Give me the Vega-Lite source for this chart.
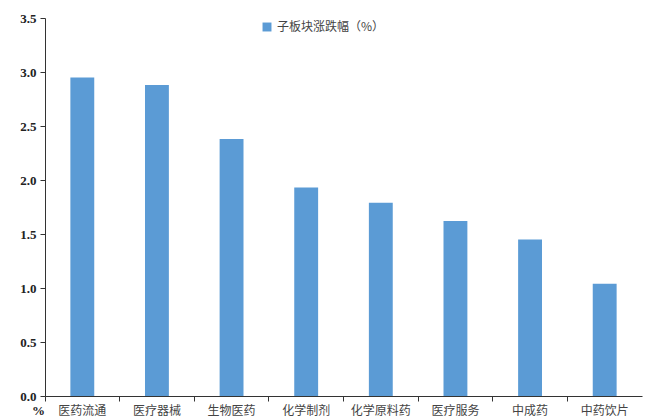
{
  "$schema": "https://vega.github.io/schema/vega-lite/v6.json",
  "width": 597,
  "height": 378,
  "autosize": {"type": "none"},
  "padding": {"left": 45, "top": 18, "right": 10, "bottom": 22},
  "background": "white",
  "config": {"view": {"stroke": null}},
  "data": {
    "values": [
      {"sector": "医药流通", "value": 2.95, "series": "子板块涨跌幅（%）"},
      {"sector": "医疗器械", "value": 2.88, "series": "子板块涨跌幅（%）"},
      {"sector": "生物医药", "value": 2.38, "series": "子板块涨跌幅（%）"},
      {"sector": "化学制剂", "value": 1.93, "series": "子板块涨跌幅（%）"},
      {"sector": "化学原料药", "value": 1.79, "series": "子板块涨跌幅（%）"},
      {"sector": "医疗服务", "value": 1.62, "series": "子板块涨跌幅（%）"},
      {"sector": "中成药", "value": 1.45, "series": "子板块涨跌幅（%）"},
      {"sector": "中药饮片", "value": 1.04, "series": "子板块涨跌幅（%）"}
    ]
  },
  "mark": {"type": "bar", "width": {"band": 0.32}},
  "encoding": {
    "x": {
      "field": "sector",
      "type": "nominal",
      "sort": null,
      "scale": {"paddingInner": 0, "paddingOuter": 0},
      "axis": {
        "title": null,
        "labelAngle": 0,
        "bandPosition": 0,
        "domainColor": "#333333",
        "tickColor": "#333333",
        "tickSize": 5,
        "labelFont": "Noto Sans CJK SC",
        "labelFontSize": 12,
        "labelColor": "#444444",
        "labelPadding": 4
      }
    },
    "y": {
      "field": "value",
      "type": "quantitative",
      "scale": {"domain": [0, 3.5], "nice": false},
      "axis": {
        "values": [0, 0.5, 1, 1.5, 2, 2.5, 3, 3.5],
        "format": ".1f",
        "grid": false,
        "domainColor": "#333333",
        "tickColor": "#333333",
        "tickSize": 5,
        "labelFont": "Liberation Serif",
        "labelFontWeight": "bold",
        "labelFontSize": 13,
        "labelColor": "#222222",
        "labelPadding": 4,
        "title": "%",
        "titleAngle": 0,
        "titleX": -7,
        "titleY": 392,
        "titleAlign": "center",
        "titleBaseline": "middle",
        "titleFont": "Liberation Serif",
        "titleFontWeight": "bold",
        "titleFontSize": 13,
        "titleColor": "#222222"
      }
    },
    "color": {
      "field": "series",
      "type": "nominal",
      "scale": {"range": ["#5B9BD5"]},
      "legend": {
        "title": null,
        "orient": "none",
        "legendX": 216,
        "legendY": 3,
        "symbolType": "square",
        "symbolSize": 80,
        "labelFont": "Noto Sans CJK SC",
        "labelFontSize": 12,
        "labelColor": "#444444"
      }
    }
  }
}
